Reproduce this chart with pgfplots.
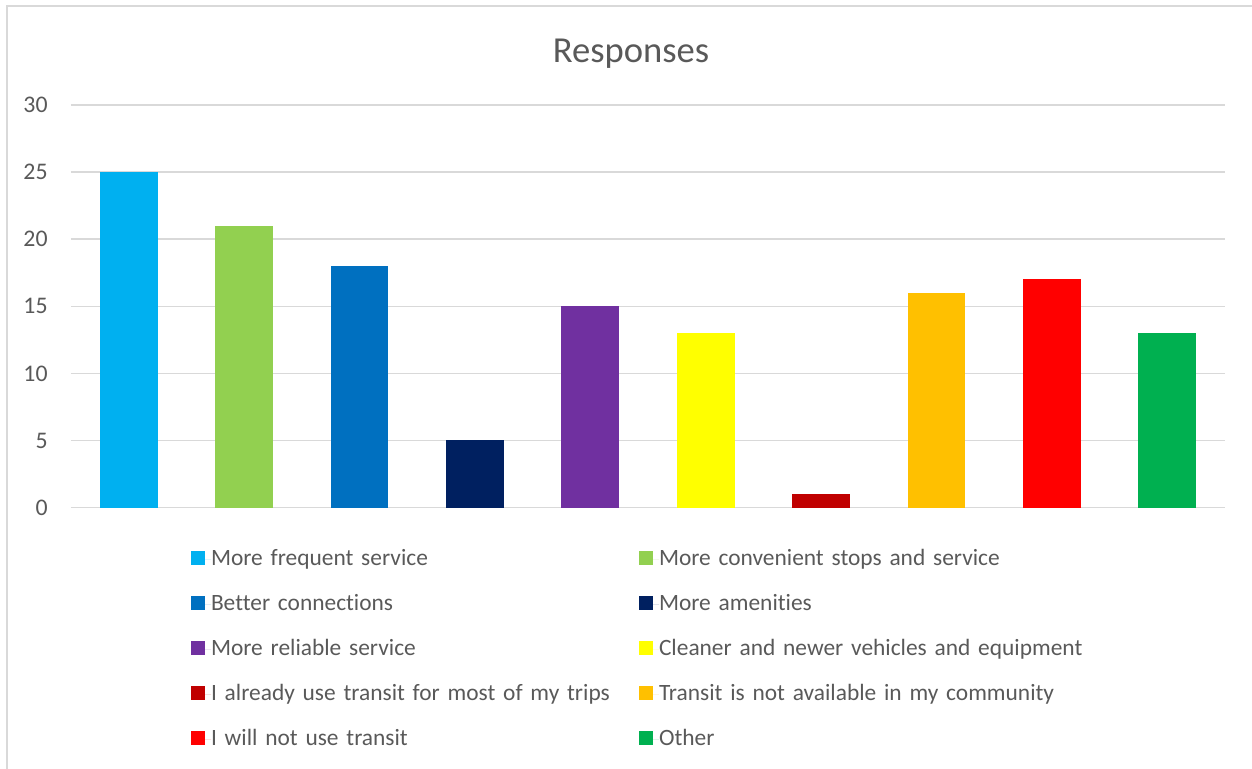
\documentclass[border=0pt]{standalone}
\usepackage{fontspec}
\setmainfont{Carlito}[Ligatures=NoCommon]
\usepackage{pgfplots}
\pgfplotsset{compat=1.18}
\hyphenpenalty=10000
\definecolor{txt}{HTML}{595959}
\definecolor{grd}{HTML}{D9D9D9}
\definecolor{c1}{HTML}{00B0F0}
\definecolor{c2}{HTML}{92D050}
\definecolor{c3}{HTML}{0070C0}
\definecolor{c4}{HTML}{002060}
\definecolor{c5}{HTML}{7030A0}
\definecolor{c6}{HTML}{FFFF00}
\definecolor{c7}{HTML}{C00000}
\definecolor{c8}{HTML}{FFC000}
\definecolor{c9}{HTML}{FF0000}
\definecolor{c10}{HTML}{00B050}
\begin{document}
\begin{tikzpicture}
\useasboundingbox (-35.5pt,-130.7pt) rectangle (590.5pt,253.8pt);
\draw[grd, line width=0.8pt] (-32pt,-131pt) -- (-32pt,250.8pt) -- (591pt,250.8pt);
\begin{axis}[
  at={(0,0)}, anchor=south west,
  scale only axis, width=577pt, height=201.3pt,
  ybar, bar width=0.5,
  xmin=-0.5, xmax=9.5, ymin=0, ymax=30,
  ytick={0,5,...,30}, xtick=\empty,
  axis line style={draw=none},
  ymajorgrids, grid style={grd, line width=0.75pt},
  major tick length=0pt,
  /pgf/number format/assume math mode=true,
  yticklabel style={font=\fontsize{11.9pt}{14pt}\selectfont, text=txt, anchor=east, inner sep=0pt, xshift=-11.5pt},
  legend columns=2,
  legend style={draw=none, fill=none, inner sep=0pt, outer sep=0pt,
    at={(axis description cs:0.104,-0.1)}, anchor=north west,
    column sep=0pt, row sep=11pt,
    nodes={font=\fontsize{11.7pt}{14pt}\selectfont, text=txt, text width=214pt, align=left, inner xsep=0pt, inner ysep=0pt, text height=9pt, text depth=2.5pt}},
  legend image code/.code={\fill[#1] (0pt,-3pt) rectangle (7pt,4pt); \path (0pt,0pt) -- (10pt,0pt);},
]
\addplot[fill=c1, draw=none, bar shift=0pt] coordinates {(0,25)};
\addplot[fill=c2, draw=none, bar shift=0pt] coordinates {(1,21)};
\addplot[fill=c3, draw=none, bar shift=0pt] coordinates {(2,18)};
\addplot[fill=c4, draw=none, bar shift=0pt] coordinates {(3,5)};
\addplot[fill=c5, draw=none, bar shift=0pt] coordinates {(4,15)};
\addplot[fill=c6, draw=none, bar shift=0pt] coordinates {(5,13)};
\addplot[fill=c7, draw=none, bar shift=0pt] coordinates {(6,1)};
\addplot[fill=c8, draw=none, bar shift=0pt] coordinates {(7,16)};
\addplot[fill=c9, draw=none, bar shift=0pt] coordinates {(8,17)};
\addplot[fill=c10, draw=none, bar shift=0pt] coordinates {(9,13)};
\legend{More frequent service, More convenient stops and service, Better connections, More amenities, More reliable service, Cleaner and newer vehicles and equipment, I already use transit for most of my trips, Transit is not available in my community, I will not use transit, Other}
\end{axis}
\node[font=\fontsize{18.3pt}{22pt}\selectfont, text=txt] at (280pt,226.8pt) {Responses};
\end{tikzpicture}
\end{document}
